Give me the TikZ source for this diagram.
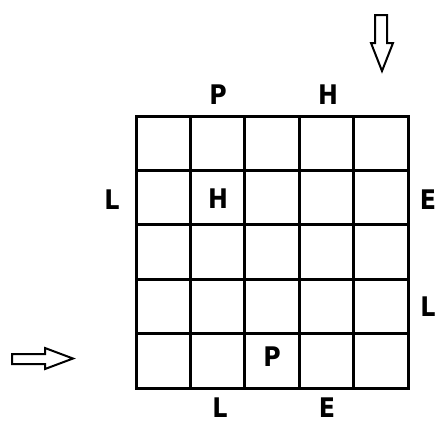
\documentclass[tikz,border=0pt]{standalone}
\usepackage{fontspec}
\setmainfont{DejaVu Sans}
\newcommand{\lettr}[1]{\scalebox{0.88}[1]{#1}}
\begin{document}
\begin{tikzpicture}[x=1pt,y=-1pt,
  lbl/.style={font=\bfseries\fontsize{27}{27}\selectfont, inner sep=0pt, anchor=center},
  gridline/.style={line width=3pt, line cap=rect},
  hollow/.style={draw, line width=2pt, line join=miter, fill=white}]
\useasboundingbox (0,0) rectangle (438,423);
% grid
\foreach \i in {0,...,5} {
  \draw[gridline] ({136+54.4*\i},116) -- ({136+54.4*\i},388);
  \draw[gridline] (136,{116+54.4*\i}) -- (408,{116+54.4*\i});
}
% labels
\node[lbl] (pt) at (218,95) {\lettr{P}};
\node[lbl] (ht) at (328,95) {\lettr{H}};
\node[lbl] (ll) at (112,200) {\lettr{L}};
\node[lbl] (hc) at (218,199) {\lettr{H}};
\node[lbl] (er) at (428,200) {\lettr{E}};
\node[lbl] (lr) at (428,307) {\lettr{L}};
\node[lbl] (pc) at (272,357) {\lettr{P}};
\node[lbl] (lb) at (220,408) {\lettr{L}};
\node[lbl] (eb) at (327,408) {\lettr{E}};
% down arrow
\draw[hollow] (375,15) -- (387,15) -- (387,43) -- (393,43) -- (382,71) -- (371,43) -- (375,43) -- cycle;
% right arrow
\draw[hollow] (12,354) -- (45,354) -- (45,348) -- (73,358.5) -- (45,369) -- (45,364) -- (12,364) -- cycle;
\end{tikzpicture}
\end{document}
